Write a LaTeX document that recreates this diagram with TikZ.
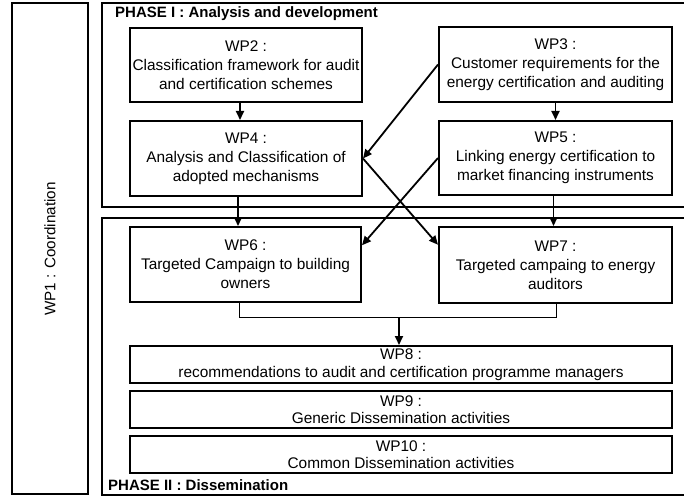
\documentclass[tikz,border=0pt]{standalone}
\usepackage{fontspec}
\setmainfont{Liberation Sans}
\usetikzlibrary{arrows.meta,calc}
\begin{document}
\begin{tikzpicture}[x=1pt,y=-1pt,
  wpbox/.style={draw,line width=2pt,align=center,inner sep=2pt,
    font=\fontsize{15.4}{19}\selectfont},
  widebox/.style={draw,line width=2pt,align=center,inner sep=1pt,
    minimum width=542pt,minimum height=37pt,font=\fontsize{15.4}{17.5}\selectfont},
  phasebox/.style={draw,line width=2pt},
  arr/.style={line width=1.8pt,-{Triangle[length=9pt,width=8pt]}},
  bracket/.style={line width=0.8pt},
  phaselabel/.style={font=\bfseries\fontsize{15}{18}\selectfont,anchor=base west,inner sep=0pt}
]
\useasboundingbox (0,0) rectangle (684,497);
% frames
\draw[phasebox] (12,3) rectangle (88,494);
\draw[phasebox] (102,3) rectangle (692,207);
\draw[phasebox] (102,218) rectangle (692,495);
\node[rotate=90,font=\fontsize{15.2}{18}\selectfont] (wp1) at (50,249) {WP1 : Coordination};
\node[phaselabel] (ph1) at (115,18) {PHASE I : Analysis and development};
\node[phaselabel] (ph2) at (108,490) {PHASE II : Dissemination};
% work packages
\node[wpbox,minimum width=232pt,minimum height=74pt] (wp2) at (246,65)
  {WP2 :\\Classification framework for audit\\and certification schemes};
\node[wpbox,minimum width=233pt,minimum height=75pt] (wp3) at (555.5,64.5)
  {WP3 :\\Customer requirements for the\\energy certification and auditing};
\node[wpbox,minimum width=232pt,minimum height=75pt] (wp4) at (246,158.5)
  {WP4 :\\Analysis and Classification of\\adopted mechanisms};
\node[wpbox,minimum width=233pt,minimum height=74pt] (wp5) at (555.5,158)
  {WP5 :\\Linking energy certification to\\market financing instruments};
\node[wpbox,minimum width=231pt,minimum height=75pt] (wp6) at (245.5,264.5)
  {WP6 :\\Targeted Campaign to building\\owners};
\node[wpbox,minimum width=233pt,minimum height=76pt] (wp7) at (555.5,265)
  {WP7 :\\Targeted campaing to energy\\auditors};
\node[widebox] (wp8) at (401,364.5)
  {WP8 :\\recommendations to audit and certification programme managers};
\node[widebox] (wp9) at (401,409.5)
  {WP9 :\\Generic Dissemination activities};
\node[widebox] (wp10) at (401,454.5)
  {WP10 :\\Common Dissemination activities};
% vertical arrows
\draw[arr] ($(wp2.south)+(-6,0)$) -- ($(wp4.north)+(-6,0)$);
\draw[arr] ($(wp4.south)+(-8,0)$) -- ($(wp6.north)+(-7.5,0)$);
\draw[arr] (wp3.south) -- (wp5.north);
\draw[arr] ($(wp5.south)+(-2,0)$) -- ($(wp7.north)+(-2,0)$);
% diagonal arrows
\coordinate (wp6in) at ($(wp6.north east)!0.25!(wp6.south east)$);
\coordinate (wp7in) at ($(wp7.north west)!0.24!(wp7.south west)$);
\draw[arr] (wp3.west) -- (wp4.east);
\draw[arr] (wp4.east) -- (wp7in);
\draw[arr] (wp5.west) -- (wp6in);
% bracket
\coordinate (b1) at ($(wp6.south)+(-6.5,0)$);
\coordinate (b2) at ($(wp7.south)+(0.5,0)$);
\coordinate (bm) at (399,317);
\draw[bracket] (b1) -- (b1 |- bm) -- (b2 |- bm) -- (b2);
\draw[arr] (bm) -- (bm |- wp8.north);
\end{tikzpicture}
\end{document}
